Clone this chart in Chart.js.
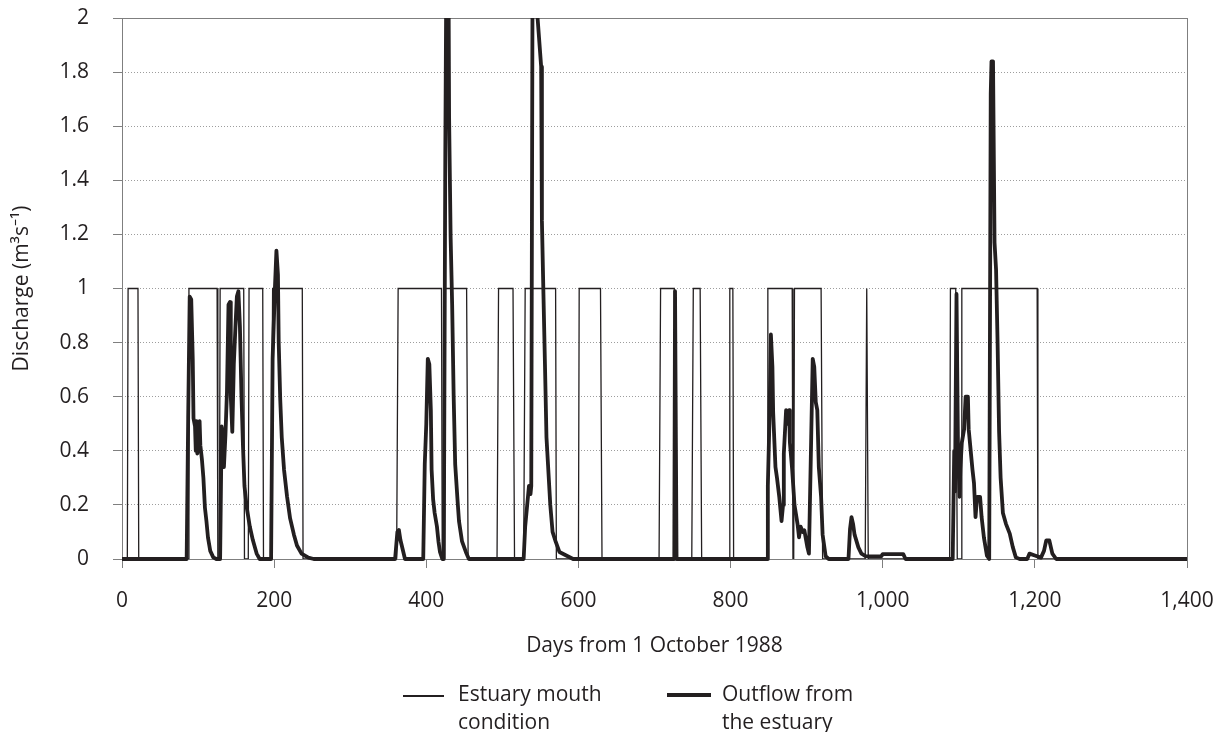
<!DOCTYPE html>
<html>
<head>
<meta charset="utf-8">
<title>Estuary discharge</title>
<script src="https://cdn.jsdelivr.net/npm/chart.js@4.4.0/dist/chart.umd.min.js"></script>
<style>
  html, body { margin: 0; padding: 0; background: #fff; }
  #wrap { position: relative; width: 1222px; height: 732px; }
  #legend {
    position: absolute; left: 0; top: 0; width: 100%; height: 100%;
    pointer-events: none;
    font-family: "Open Sans", sans-serif; font-size: 21px; line-height: 28px; color: #231f20;
  }
  .swatch { position: absolute; background: #231f20; }
  .label { position: absolute; white-space: nowrap; }
</style>
</head>
<body>
<div id="wrap">
  <canvas id="chart" width="1222" height="732"></canvas>
  <div id="legend">
    <div class="swatch" style="left:403px; top:695px; width:41px; height:1.5px"></div>
    <div class="label" style="left:458px; top:679px">Estuary mouth<br>condition</div>
    <div class="swatch" style="left:667px; top:693px; width:44px; height:4px"></div>
    <div class="label" style="left:722px; top:679px">Outflow from<br>the estuary</div>
  </div>
</div>
<script>
// mouth condition: 1 = open, 0 = closed (day, state)
const mouthDays = [
  0, 7, 8, 21, 22,
  87, 88, 125, 126,
  128, 129, 160, 161,
  166, 167, 185, 186,
  196, 198, 237, 238,
  361, 363, 420, 421,
  424, 425, 453, 455,
  493, 495, 514, 516,
  528, 530, 570, 571,
  600, 601, 629, 631,
  706, 708, 726, 729,
  749, 751, 760, 762,
  798, 799, 803, 804,
  848, 849, 881, 882,
  883, 884, 919, 921,
  977, 979, 981,
  1088, 1089, 1096, 1098,
  1103, 1104, 1203, 1204,
  1400
];
const mouthState = [
  0, 0, 1, 1, 0,
  0, 1, 1, 0,
  0, 1, 1, 0,
  0, 1, 1, 0,
  0, 1, 1, 0,
  0, 1, 1, 0,
  0, 1, 1, 0,
  0, 1, 1, 0,
  0, 1, 1, 0,
  0, 1, 1, 0,
  0, 1, 1, 0,
  0, 1, 1, 0,
  0, 1, 1, 0,
  0, 1, 1, 0,
  0, 1, 1, 0,
  0, 1, 0,
  0, 1, 1, 0,
  0, 1, 1, 0,
  0
];

// outflow from the estuary, m3/s
const outflowDays = [
  0, 85, 87, 89, 91, 93, 94, 96, 97, 98, 99, 100, 101, 102, 103, 105, 107, 109, 111, 113, 116, 120, 124,
  129, 131, 132, 133, 134, 136, 138, 140, 142, 143, 145, 147, 149, 151, 153, 155, 157, 159, 161, 164, 168, 172, 177, 181,
  196, 198, 201, 203, 205, 206, 208, 210, 213, 217, 221, 226, 230, 236, 245, 252,
  359, 362, 364, 366, 368, 372,
  396, 398, 400, 402, 404, 406, 407, 409, 411, 414, 416, 418, 421,
  423, 425, 427, 428, 429, 430, 432, 434, 436, 438, 441, 443, 447, 452, 456,
  528, 530, 533, 535, 537, 538, 540, 543, 545, 551, 552, 554, 556, 558, 560, 563, 566, 570, 575, 584, 593,
  726, 727, 728, 729,
  848, 849, 851, 853, 855, 856, 859, 861, 864, 867, 869, 870, 873, 875, 877, 878, 881, 884, 888, 890, 892, 895, 897, 901, 903,
  906, 908, 910, 912, 914, 916, 919, 921, 925, 929,
  955, 957, 959, 961, 963, 968, 972, 978, 985, 998, 1000, 1027, 1030,
  1092, 1094, 1095, 1097, 1099, 1101, 1102, 1104, 1107, 1109, 1112, 1113, 1116, 1118, 1120, 1122, 1124, 1128, 1130, 1133, 1137, 1140,
  1142, 1143, 1145, 1147, 1149, 1151, 1153, 1155, 1158, 1162, 1167, 1171, 1175, 1180,
  1190, 1193, 1200, 1208, 1212, 1215, 1219, 1223, 1228, 1400
];
const outflowRate = [
  0, 0, 0.52, 0.97, 0.96, 0.74, 0.52, 0.49, 0.40, 0.51, 0.39, 0.50, 0.40, 0.51, 0.42, 0.37, 0.30, 0.19, 0.14, 0.08, 0.03, 0.006, 0,
  0, 0.49, 0.36, 0.48, 0.34, 0.46, 0.62, 0.94, 0.95, 0.60, 0.47, 0.72, 0.85, 0.97, 0.99, 0.86, 0.61, 0.42, 0.27, 0.19, 0.12, 0.07, 0.02, 0,
  0, 0.74, 1.0, 1.14, 1.05, 0.80, 0.59, 0.45, 0.33, 0.23, 0.15, 0.09, 0.05, 0.02, 0.005, 0,
  0, 0.10, 0.107, 0.07, 0.047, 0,
  0, 0.35, 0.50, 0.74, 0.72, 0.55, 0.33, 0.22, 0.17, 0.12, 0.065, 0.026, 0,
  0, 1.5, 2.5, 2.6, 2.3, 1.63, 1.19, 0.94, 0.60, 0.35, 0.22, 0.14, 0.065, 0.026, 0,
  0, 0.12, 0.21, 0.27, 0.24, 0.27, 2.5, 2.6, 2.05, 1.82, 1.25, 0.98, 0.72, 0.45, 0.35, 0.20, 0.10, 0.065, 0.026, 0.013, 0,
  0, 0.99, 0.99, 0,
  0, 0.27, 0.50, 0.83, 0.71, 0.54, 0.34, 0.30, 0.23, 0.14, 0.20, 0.39, 0.55, 0.50, 0.55, 0.43, 0.33, 0.20, 0.13, 0.08, 0.12, 0.10, 0.106, 0.043, 0.02,
  0.45, 0.74, 0.71, 0.58, 0.55, 0.34, 0.23, 0.09, 0.01, 0,
  0, 0.11, 0.155, 0.13, 0.09, 0.043, 0.02, 0.01, 0.01, 0.01, 0.018, 0.018, 0,
  0, 0.40, 0.25, 0.98, 0.40, 0.23, 0.33, 0.43, 0.48, 0.60, 0.60, 0.48, 0.39, 0.33, 0.28, 0.155, 0.23, 0.23, 0.155, 0.08, 0.012, 0,
  1.72, 1.84, 1.84, 1.17, 1.07, 0.80, 0.47, 0.30, 0.17, 0.13, 0.094, 0.044, 0.006, 0,
  0, 0.02, 0.013, 0.005, 0.03, 0.069, 0.069, 0.02, 0, 0
];

const INK = "#231f20";
const RULE = "#7f7f7f";
const FONT = { family: '"Open Sans", sans-serif', size: 21 };

const toPoints = (xs, ys) => xs.map((x, i) => ({ x, y: ys[i] }));

// box round the plotting area
const frame = {
  id: "frame",
  beforeDatasetsDraw(chart) {
    const { ctx, chartArea: a } = chart;
    ctx.save();
    ctx.strokeStyle = RULE;
    ctx.lineWidth = 1;
    ctx.strokeRect(Math.round(a.left) + 0.5, Math.round(a.top) + 0.5,
      Math.round(a.right - a.left), Math.round(a.bottom - a.top));
    ctx.restore();
  },
};

new Chart(document.getElementById("chart"), {
  type: "line",
  data: {
    datasets: [
      {
        label: "Estuary mouth condition",
        data: toPoints(mouthDays, mouthState),
        borderColor: INK,
        borderWidth: 1.3,
        order: 1,
      },
      {
        label: "Outflow from the estuary",
        data: toPoints(outflowDays, outflowRate),
        borderColor: INK,
        borderWidth: 3.8,
        borderJoinStyle: "round",
        order: 0,
        clip: { left: 3, top: 0, right: 3, bottom: 3 },
      },
    ],
  },
  options: {
    responsive: false,
    animation: false,
    layout: { padding: { left: 0, top: 18, right: 35, bottom: 73 } },
    elements: { point: { radius: 0 }, line: { tension: 0 } },
    plugins: { legend: { display: false }, tooltip: { enabled: false } },
    scales: {
      x: {
        type: "linear",
        min: 0,
        max: 1400,
        afterFit: (s) => {
          s.height = 100;
          s.paddingLeft = 0;
          s.paddingRight = 0;
        },
        ticks: {
          stepSize: 200,
          color: INK,
          font: FONT,
          padding: 20,
          maxRotation: 0,
          callback: (v) => v.toLocaleString("en-US"),
        },
        grid: { drawOnChartArea: false, tickLength: 9, tickColor: RULE },
        border: { display: false },
        title: {
          display: true,
          text: "Days from 1 October 1988",
          color: INK,
          font: FONT,
          padding: { top: 0, bottom: 0 },
        },
      },
      y: {
        min: 0,
        max: 2,
        afterFit: (s) => {
          s.width = 122;
          s.paddingTop = 0;
          s.paddingBottom = 0;
        },
        ticks: {
          stepSize: 0.2,
          color: INK,
          font: FONT,
          padding: 24,
          callback: (v) => String(Number(v.toFixed(1))),
        },
        grid: { color: "#9d9d9d", lineWidth: 1, tickLength: 9, tickColor: RULE },
        border: { display: false, dash: [1, 2] },
        title: {
          display: true,
          text: "Discharge (m³s⁻¹)",
          color: INK,
          font: FONT,
          padding: { top: 9, bottom: 0 },
        },
      },
    },
  },
  plugins: [frame],
});
</script>
</body>
</html>
